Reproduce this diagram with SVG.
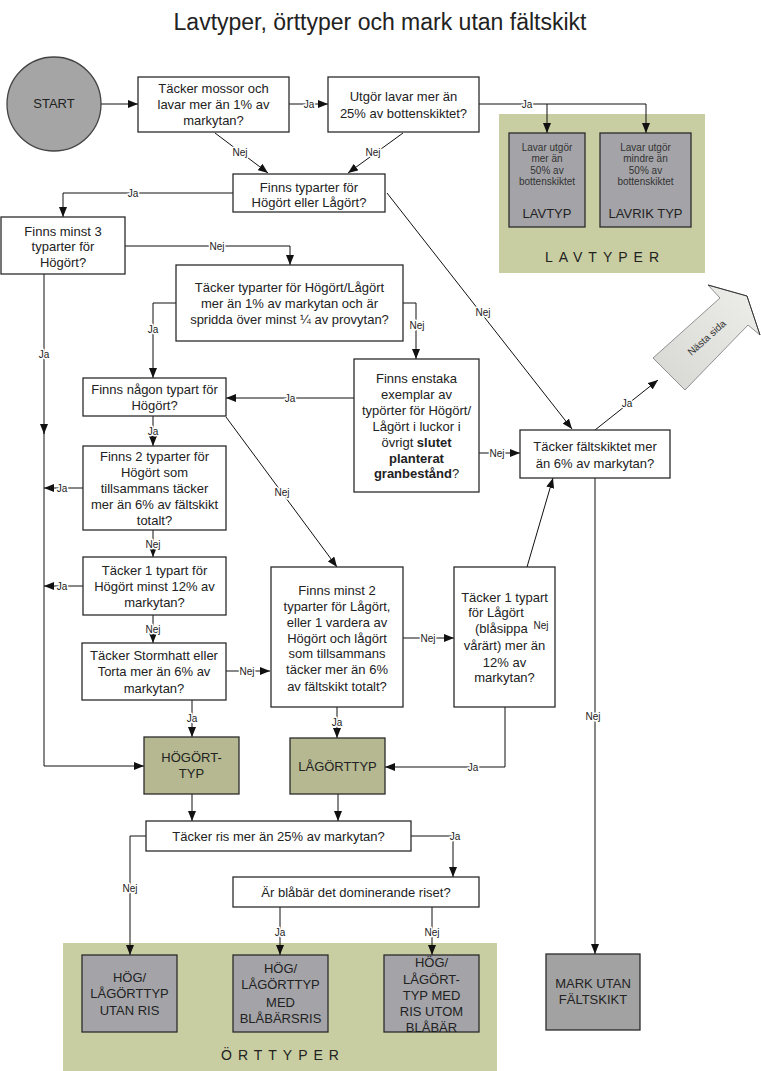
<svg xmlns="http://www.w3.org/2000/svg" width="761" height="1071" viewBox="0 0 761 1071">
<defs>
<marker id="ah" markerUnits="userSpaceOnUse" markerWidth="10" markerHeight="8" refX="10" refY="4" orient="auto">
<path d="M0,0 L10,4 L0,8 z" fill="#111"/>
</marker>
<linearGradient id="ng" x1="0" y1="1" x2="1" y2="0">
<stop offset="0" stop-color="#d6d6d2"/>
<stop offset="1" stop-color="#eeeeea"/>
</linearGradient>
<style>
.box{fill:#fff;stroke:#2b2b2b;stroke-width:1.3}
.res{fill:#a4a4a8;stroke:#2b2b2b;stroke-width:1.3}
.olv{fill:#b5b890;stroke:#2b2b2b;stroke-width:1.3}
.pan{fill:#c8cea1}
.t{font-family:"Liberation Sans",Arial,sans-serif;font-size:13px;fill:#222;text-anchor:middle}
.s{font-family:"Liberation Sans",Arial,sans-serif;font-size:10px;fill:#333;text-anchor:middle}
.b{font-weight:bold}
.sp{font-family:"Liberation Sans",Arial,sans-serif;font-size:14px;fill:#222;text-anchor:middle;letter-spacing:6px}
.c{fill:none;stroke:#111;stroke-width:1}
.a{marker-end:url(#ah)}
.lbl{font-family:"Liberation Sans",Arial,sans-serif;font-size:10px;fill:#222;text-anchor:middle;stroke:#fff;stroke-width:3px;paint-order:stroke;stroke-linejoin:round}
</style>
</defs>
<rect width="761" height="1071" fill="#fff"/>
<text x="380" y="30" font-family="'Liberation Sans',Arial,sans-serif" font-size="23" fill="#222" text-anchor="middle">Lavtyper, örttyper och mark utan fältskikt</text>

<g id="panel-lavtyper">
<rect class="pan" x="499" y="114" width="206" height="159"/>
<text class="sp" x="605" y="262">LAVTYPER</text>
</g>
<g id="panel-orttyper">
<rect class="pan" x="63" y="943" width="434" height="128"/>
<text class="sp" x="283" y="1060">ÖRTTYPER</text>
</g>

<g id="connectors">
<path class="c a" d="M101,104 H138"/>
<path class="c a" d="M289,104 H328"/>
<path class="c a" d="M479,104 H646 V133"/>
<path class="c a" d="M547,104 V133"/>
<path class="c a" d="M215,133 L268,173"/>
<path class="c a" d="M403,133 L348,173"/>
<path class="c a" d="M233,193 H63 V217"/>
<path class="c a" d="M387,193 L572,429"/>
<path class="c a" d="M125,246 H290 V265"/>
<path class="c a" d="M44,274 V434"/>
<path class="c a" d="M44,430 V766 H144"/>
<path class="c a" d="M176,303 H153 V378"/>
<path class="c a" d="M403,303 H416 V359"/>
<path class="c a" d="M354,398 H226"/>
<path class="c a" d="M479,453 H520"/>
<path class="c a" d="M595,430 L658,380"/>
<path class="c a" d="M595,478 V954"/>
<path class="c a" d="M153,416 V446"/>
<path class="c a" d="M226,417 L337,567"/>
<path class="c a" d="M83,488 H44"/>
<path class="c a" d="M153,530 V557"/>
<path class="c a" d="M83,586 H44"/>
<path class="c a" d="M153,615 V643"/>
<path class="c a" d="M226,671 H270"/>
<path class="c a" d="M192,700 V737"/>
<path class="c a" d="M403,638 H454"/>
<path class="c a" d="M337,707 V738"/>
<path class="c a" d="M527,567 L553,478"/>
<path class="c a" d="M505,707 V767 H385"/>
<path class="c a" d="M192,794 V821"/>
<path class="c a" d="M338,794 V821"/>
<path class="c a" d="M146,836 H130 V955"/>
<path class="c a" d="M411,836 H453 V877"/>
<path class="c a" d="M280,907 V955"/>
<path class="c a" d="M432,907 V955"/>
<text class="lbl" x="309" y="107.5">Ja</text>
<text class="lbl" x="527" y="107.5">Ja</text>
<text class="lbl" x="240" y="155.5">Nej</text>
<text class="lbl" x="373" y="155.5">Nej</text>
<text class="lbl" x="133" y="196.5">Ja</text>
<text class="lbl" x="483" y="315.5">Nej</text>
<text class="lbl" x="217" y="249.5">Nej</text>
<text class="lbl" x="44" y="357.5">Ja</text>
<text class="lbl" x="153" y="332.5">Ja</text>
<text class="lbl" x="417" y="328.5">Nej</text>
<text class="lbl" x="290" y="401.5">Ja</text>
<text class="lbl" x="497" y="456.5">Nej</text>
<text class="lbl" x="627" y="406.5">Ja</text>
<text class="lbl" x="593" y="719.5">Nej</text>
<text class="lbl" x="153" y="434.5">Ja</text>
<text class="lbl" x="282" y="495.5">Nej</text>
<text class="lbl" x="62" y="491.5">Ja</text>
<text class="lbl" x="153" y="547.5">Nej</text>
<text class="lbl" x="62" y="589.5">Ja</text>
<text class="lbl" x="153" y="632.5">Nej</text>
<text class="lbl" x="247" y="674.5">Nej</text>
<text class="lbl" x="192" y="721.5">Ja</text>
<text class="lbl" x="428" y="641.5">Nej</text>
<text class="lbl" x="337" y="725.5">Ja</text>
<text class="lbl" x="473" y="770.5">Ja</text>
<text class="lbl" x="130" y="891.5">Nej</text>
<text class="lbl" x="455" y="839.5">Ja</text>
<text class="lbl" x="280" y="935.5">Ja</text>
<text class="lbl" x="432" y="935.5">Nej</text>
</g>

<g id="start">
<circle cx="54" cy="104" r="47" fill="#a5a5a5" stroke="#444" stroke-width="1.3"/>
<text class="t" x="54" y="108" font-size="11">START</text>
</g>

<g id="q-mossor">
<rect class="box" x="138" y="77" width="151" height="55"/>
<text class="t" x="213.5" y="92.5">Täcker mossor och</text>
<text class="t" x="213.5" y="108.5">lavar mer än 1% av</text>
<text class="t" x="213.5" y="124.5">markytan?</text>
</g>

<g id="q-lavar25">
<rect class="box" x="328" y="77" width="151" height="55"/>
<text class="t" x="403.5" y="100.5">Utgör lavar mer än</text>
<text class="t" x="403.5" y="117.5">25% av bottenskiktet?</text>
</g>

<g id="lavtyp">
<rect class="res" x="509" y="133" width="76" height="94"/>
<text class="s" x="547" y="150.5">Lavar utgör</text>
<text class="s" x="547" y="162">mer än</text>
<text class="s" x="547" y="173.5">50% av</text>
<text class="s" x="547" y="185">bottenskiktet</text>
<text class="t" x="547" y="217.5">LAVTYP</text>
</g>

<g id="lavrik">
<rect class="res" x="600" y="133" width="91" height="94"/>
<text class="s" x="645.5" y="150.5">Lavar utgör</text>
<text class="s" x="645.5" y="162">mindre än</text>
<text class="s" x="645.5" y="173.5">50% av</text>
<text class="s" x="645.5" y="185">bottenskiktet</text>
<text class="t" x="645.5" y="217.5">LAVRIK TYP</text>
</g>

<g id="q-typarter">
<rect class="box" x="233" y="174" width="152" height="38"/>
<text class="t" x="309" y="191.5">Finns typarter för</text>
<text class="t" x="309" y="206.5">Högört eller Lågört?</text>
</g>

<g id="q-minst3">
<rect class="box" x="1" y="217" width="124" height="57"/>
<text class="t" x="63" y="235.5">Finns minst 3</text>
<text class="t" x="63" y="250.5">typarter för</text>
<text class="t" x="63" y="266.5">Högört?</text>
</g>

<g id="q-spridda">
<rect class="box" x="176" y="265" width="227" height="76"/>
<text class="t" x="289.5" y="291.5">Täcker typarter för Högört/Lågört</text>
<text class="t" x="289.5" y="307.5">mer än 1% av markytan och är</text>
<text class="t" x="289.5" y="323.5">spridda över minst ¼ av provytan?</text>
</g>

<g id="q-nagon">
<rect class="box" x="83" y="378" width="143" height="38"/>
<text class="t" x="154.5" y="393.5">Finns någon typart för</text>
<text class="t" x="154.5" y="409.5">Högört?</text>
</g>

<g id="q-enstaka">
<rect class="box" x="354" y="359" width="125" height="133"/>
<text class="t" x="416.5" y="382.5">Finns enstaka</text>
<text class="t" x="416.5" y="398.5">exemplar av</text>
<text class="t" x="416.5" y="414.5">typörter för Högört/</text>
<text class="t" x="416.5" y="430.5">Lågört i luckor i</text>
<text class="t" x="416.5" y="446.5">övrigt <tspan class="b">slutet</tspan></text>
<text class="t b" x="416.5" y="462.5">planterat</text>
<text class="t" x="416.5" y="477.5"><tspan class="b">granbestånd</tspan>?</text>
</g>

<g id="q-faltskikt">
<rect class="box" x="520" y="430" width="150" height="48"/>
<text class="t" x="595" y="450.5">Täcker fältskiktet mer</text>
<text class="t" x="595" y="467.5">än 6% av markytan?</text>
</g>

<g id="nasta-sida">
<polygon points="653,358 720,298 708,285 747,296 760,335 748,325 685,390" fill="url(#ng)" stroke="#777" stroke-width="0.8"/>
<polyline points="708,285 747,296 760,335" fill="none" stroke="#333" stroke-width="1"/>
<text class="s" x="707" y="341" font-size="9" transform="rotate(-42 707 338)">Nästa sida</text>
</g>

<g id="q-2hogort">
<rect class="box" x="83" y="446" width="143" height="84"/>
<text class="t" x="154.5" y="460.5">Finns 2 typarter för</text>
<text class="t" x="154.5" y="476.5">Högört som</text>
<text class="t" x="154.5" y="492.5">tillsammans täcker</text>
<text class="t" x="154.5" y="508.5">mer än 6% av fältskikt</text>
<text class="t" x="154.5" y="524.5">totalt?</text>
</g>

<g id="q-1hogort">
<rect class="box" x="83" y="557" width="143" height="58"/>
<text class="t" x="154.5" y="574.5">Täcker 1 typart för</text>
<text class="t" x="154.5" y="590.5">Högört minst 12% av</text>
<text class="t" x="154.5" y="606.5">markytan?</text>
</g>

<g id="q-stormhatt">
<rect class="box" x="82" y="643" width="144" height="57"/>
<text class="t" x="154" y="659.5">Täcker Stormhatt eller</text>
<text class="t" x="154" y="675.5">Torta mer än 6% av</text>
<text class="t" x="154" y="692.5">markytan?</text>
</g>

<g id="q-2lagort">
<rect class="box" x="271" y="567" width="132" height="140"/>
<text class="t" x="337" y="594.5">Finns minst 2</text>
<text class="t" x="337" y="610.5">typarter för Lågört,</text>
<text class="t" x="337" y="626.5">eller 1 vardera av</text>
<text class="t" x="337" y="642.5">Högört och lågört</text>
<text class="t" x="337" y="657.5">som tillsammans</text>
<text class="t" x="337" y="673.5">täcker mer än 6%</text>
<text class="t" x="337" y="690.5">av fältskikt totalt?</text>
</g>

<g id="q-1lagort">
<rect class="box" x="454" y="567" width="101" height="140"/>
<text class="t" x="504.5" y="601.5">Täcker 1 typart</text>
<text class="t" x="496" y="616.5">för Lågört</text>
<text class="t" x="475" y="632.5" text-anchor="start" style="text-anchor:start">(blåsippa</text>
<text class="t" x="504.5" y="649.5">vårärt) mer än</text>
<text class="t" x="504.5" y="666.5">12% av</text>
<text class="t" x="504.5" y="681.5">markytan?</text>
<text class="lbl" x="541" y="629">Nej</text>
</g>

<g id="hogorttyp">
<rect class="olv" x="144" y="737" width="95" height="57"/>
<text class="t" x="191.5" y="761.5">HÖGÖRT-</text>
<text class="t" x="191.5" y="777.5">TYP</text>
</g>

<g id="lagorttyp">
<rect class="olv" x="290" y="738" width="95" height="56"/>
<text class="t" x="337.5" y="770.5">LÅGÖRTTYP</text>
</g>

<g id="q-ris">
<rect class="box" x="146" y="821" width="265" height="30"/>
<text class="t" x="278.5" y="840.5">Täcker ris mer än 25% av markytan?</text>
</g>

<g id="q-blabar">
<rect class="box" x="233" y="877" width="246" height="30"/>
<text class="t" x="356" y="896.5">Är blåbär det dominerande riset?</text>
</g>

<g id="ort-utan-ris">
<rect class="res" x="82" y="955" width="95" height="77"/>
<text class="t" x="129.5" y="981.5">HÖG/</text>
<text class="t" x="129.5" y="997.5">LÅGÖRTTYP</text>
<text class="t" x="129.5" y="1014.5">UTAN RIS</text>
</g>

<g id="ort-blabarsris">
<rect class="res" x="233" y="955" width="95" height="77"/>
<text class="t" x="280.5" y="972.5">HÖG/</text>
<text class="t" x="280.5" y="988.5">LÅGÖRTTYP</text>
<text class="t" x="280.5" y="1006.5">MED</text>
<text class="t" x="280.5" y="1022.5">BLÅBÄRSRIS</text>
</g>

<g id="ort-ris-utom-blabar">
<rect class="res" x="384" y="955" width="95" height="77"/>
<text class="t" x="431.5" y="966.5">HÖG/</text>
<text class="t" x="431.5" y="983.5">LÅGÖRT-</text>
<text class="t" x="431.5" y="999.5">TYP MED</text>
<text class="t" x="431.5" y="1015.5">RIS UTOM</text>
<text class="t" x="431.5" y="1031.5">BLÅBÄR</text>
</g>

<g id="mark-utan-faltskikt">
<rect class="res" x="546" y="954" width="94" height="76" style="fill:#a2a2a2"/>
<text class="t" x="593" y="987.5">MARK UTAN</text>
<text class="t" x="593" y="1003.5">FÄLTSKIKT</text>
</g>
</svg>
